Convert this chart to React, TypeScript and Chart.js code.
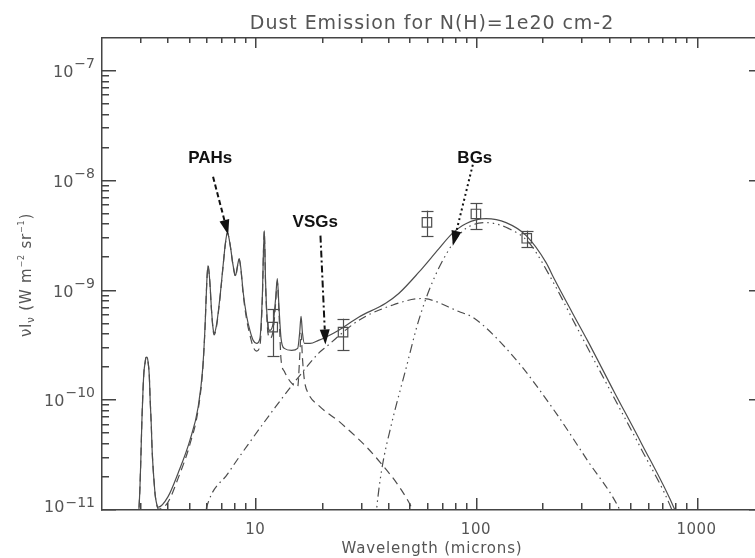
import React, { useEffect, useRef } from "react";
import { Chart, registerables } from "chart.js";

Chart.register(...registerables);

// ---------- data ----------
const totalWave = [2.93, 3.0, 3.03, 3.065, 3.1, 3.13, 3.17, 3.2, 3.24, 3.27, 3.31, 3.34, 3.38, 3.41, 3.45, 3.49, 3.52, 3.56, 3.6, 3.64, 4.02, 4.47, 5.06, 5.51, 5.78, 5.92, 6.03, 6.11, 6.23, 6.33, 6.44, 6.51, 6.67, 6.91, 7.15, 7.33, 7.48, 7.67, 7.94, 8.14, 8.31, 8.46, 8.61, 8.82, 9.13, 9.46, 9.79, 10.14, 10.5, 10.76, 10.99, 11.14, 11.37, 11.66, 12.07, 12.37, 12.59, 12.82, 13.09, 13.54, 14.62, 15.57, 15.9, 16.13, 16.36, 16.7, 17.73, 19.34, 20.75, 23.8, 29.4, 39, 44.7, 55, 68, 78, 90, 111, 137, 169, 208, 226, 273, 320, 424, 562, 794, 860];
const totalFlux = [6e-12, 1.49e-11, 2.79e-11, 6.44e-11, 1.21e-10, 1.76e-10, 2.17e-10, 2.41e-10, 2.41e-10, 2.17e-10, 1.65e-10, 1.0e-10, 5.8e-11, 3.44e-11, 2.26e-11, 1.65e-11, 1.34e-11, 1.16e-11, 1.06e-11, 1.04e-11, 1.29e-11, 2.12e-11, 4.24e-11, 8.46e-11, 1.9e-10, 4.5e-10, 1.158e-9, 1.652e-9, 1.158e-9, 6.71e-10, 4.42e-10, 3.98e-10, 4.71e-10, 8.28e-10, 1.652e-9, 2.67e-9, 3.3e-9, 2.67e-9, 1.652e-9, 1.34e-9, 1.652e-9, 1.91e-9, 1.55e-9, 9.39e-10, 5.8e-10, 4.24e-10, 3.44e-10, 3.23e-10, 3.59e-10, 8.28e-10, 3.44e-9, 1.158e-9, 5.01e-10, 4.24e-10, 5.01e-10, 8.28e-10, 1.26e-9, 6.71e-10, 3.59e-10, 2.91e-10, 2.79e-10, 2.91e-10, 4.06e-10, 5.69e-10, 4.06e-10, 3.23e-10, 3.23e-10, 3.44e-10, 3.66e-10, 4.24e-10, 5.6e-10, 7.5e-10, 9.2e-10, 1.43e-9, 2.36e-9, 3.23e-9, 3.98e-9, 4.42e-9, 4.07e-9, 3.1e-9, 1.76e-9, 1.26e-9, 6.18e-10, 3.44e-10, 1.16e-10, 3.98e-11, 1.0e-11, 6.5e-12];

const pahWave = [2.93, 3.0, 3.03, 3.065, 3.1, 3.13, 3.17, 3.2, 3.24, 3.27, 3.31, 3.34, 3.38, 3.41, 3.45, 3.49, 3.52, 3.56, 3.6, 3.64, 4.02, 4.47, 5.06, 5.51, 5.78, 5.92, 6.03, 6.11, 6.23, 6.33, 6.44, 6.51, 6.67, 6.91, 7.15, 7.33, 7.48, 7.67, 7.94, 8.14, 8.31, 8.46, 8.61, 8.82, 9.13, 9.46, 9.79, 10.14, 10.5, 10.76, 10.99, 11.14, 11.37, 11.66, 12.07, 12.37, 12.59, 12.82, 13.09, 13.54, 14.62, 15.57, 15.9, 16.13, 16.36, 16.7, 17.4, 19.34, 24.6, 35, 49.6, 54];
const pahFlux = [6e-12, 1.49e-11, 2.79e-11, 6.44e-11, 1.21e-10, 1.76e-10, 2.17e-10, 2.41e-10, 2.41e-10, 2.17e-10, 1.65e-10, 1.0e-10, 5.8e-11, 3.44e-11, 2.26e-11, 1.65e-11, 1.34e-11, 1.15e-11, 1.04e-11, 1.0e-11, 1.15e-11, 1.9e-11, 3.9e-11, 8.0e-11, 1.85e-10, 4.4e-10, 1.15e-9, 1.65e-9, 1.15e-9, 6.6e-10, 4.3e-10, 3.85e-10, 4.55e-10, 8.1e-10, 1.63e-9, 2.65e-9, 3.28e-9, 2.65e-9, 1.63e-9, 1.31e-9, 1.62e-9, 1.88e-9, 1.52e-9, 9.0e-10, 5.4e-10, 3.85e-10, 3.0e-10, 2.75e-10, 3.05e-10, 7.7e-10, 3.38e-9, 1.1e-9, 4.4e-10, 3.6e-10, 4.3e-10, 7.5e-10, 1.18e-9, 5.9e-10, 2.3e-10, 1.8e-10, 1.4e-10, 1.3e-10, 2.4e-10, 4.0e-10, 2.4e-10, 1.5e-10, 1.13e-10, 8.8e-11, 6.0e-11, 3.0e-11, 1.16e-11, 8e-12];

const vsgWave = [5.8, 5.99, 7.54, 9.59, 12.33, 15.68, 19.34, 20.81, 29.4, 41.5, 56.8, 83.7, 97.9, 148.9, 226, 319.6, 446.7, 480];
const vsgFlux = [7e-12, 1.0e-11, 2.12e-11, 4.24e-11, 8.46e-11, 1.585e-10, 2.62e-10, 2.97e-10, 5.23e-10, 7.16e-10, 8.28e-10, 6.3e-10, 5.5e-10, 2.41e-10, 7.94e-11, 2.79e-11, 1.0e-11, 7e-12];

const bgWave = [35, 35.5, 37.4, 41.5, 48, 55, 64, 79, 90, 111, 141, 174, 226, 273, 424, 562, 770, 800];
const bgFlux = [7e-12, 1.0e-11, 2.26e-11, 6.0e-11, 1.84e-10, 5.2e-10, 1.21e-9, 2.67e-9, 3.59e-9, 4.07e-9, 3.59e-9, 2.67e-9, 1.13e-9, 5.45e-10, 1.02e-10, 3.51e-11, 1.0e-11, 8e-12];

const obsWave = [12, 25, 60, 100, 170];
const obsFlux = [4.54e-10, 4.09e-10, 4.09e-9, 4.88e-9, 2.93e-9];
const obsLow = [2.48e-10, 2.79e-10, 3.05e-9, 3.56e-9, 2.42e-9];
const obsHigh = [6.58e-10, 5.42e-10, 5.23e-9, 6.14e-9, 3.44e-9];

const xTickValues = [10, 100, 1000];
const xTickLabels = ["10", "100", "1000"];
const xMinorTicks = [3, 4, 5, 6, 7, 8, 9, 20, 30, 40, 50, 60, 70, 80, 90, 200, 300, 400, 500, 600, 700, 800, 900];
const yTickExponents = [-11, -10, -9, -8, -7];
const yMinorMultipliers = [2, 3, 4, 5, 6, 7, 8, 9];

const annLabels = ["PAHs", "VSGs", "BGs"];
const annLabelWave = [6.25, 18.7, 98.9];
const annLabelFlux = [1.585e-8, 4.06e-9, 1.585e-8];
const annFromWave = [6.44, 19.75, 96.8];
const annFromFlux = [1.064e-8, 3.1e-9, 1.37e-8];
const annToWave = [7.54, 20.8, 78.6];
const annToFlux = [3.16e-9, 3.16e-10, 2.51e-9];

const titleText = "Dust Emission for N(H)=1e20 cm-2";
const xTitleText = "Wavelength (microns)";

// ---------- styling ----------
const FONT = '"DejaVu Sans", sans-serif';
const BOLD = '"Liberation Sans", Arial, sans-serif';
const TEXT_COLOR = "#555555";
const LINE_COLOR = "#4d4d4d";
const TICK_COLOR = "#444444";
const TW = 1.5;
const annDashes = [[5, 3], [7, 3, 2, 3], [2, 3]];

const toXY = (xs: number[], ys: number[]) => xs.map((x, i) => ({ x, y: ys[i] }));

function drawArrow(ctx: CanvasRenderingContext2D, x1: number, y1: number, x2: number, y2: number, dash: number[]) {
  const dx = x2 - x1, dy = y2 - y1;
  const len = Math.hypot(dx, dy);
  const ux = dx / len, uy = dy / len;
  const headLen = 15, headHalf = 5;
  const bx = x2 - ux * headLen, by = y2 - uy * headLen;
  ctx.save();
  ctx.strokeStyle = "#111";
  ctx.lineWidth = 2;
  ctx.setLineDash(dash);
  ctx.beginPath();
  ctx.moveTo(x1, y1);
  ctx.lineTo(bx, by);
  ctx.stroke();
  ctx.setLineDash([]);
  ctx.fillStyle = "#111";
  ctx.beginPath();
  ctx.moveTo(x2, y2);
  ctx.lineTo(bx - uy * headHalf, by + ux * headHalf);
  ctx.lineTo(bx + uy * headHalf, by - ux * headHalf);
  ctx.closePath();
  ctx.fill();
  ctx.restore();
}

function seg(ctx: CanvasRenderingContext2D, x1: number, y1: number, x2: number, y2: number) {
  ctx.beginPath();
  ctx.moveTo(x1, y1);
  ctx.lineTo(x2, y2);
  ctx.stroke();
}

function drawAxesBox(chart: any) {
  const ctx: CanvasRenderingContext2D = chart.ctx;
  const area = chart.chartArea;
  const xs = chart.scales.x, ys = chart.scales.y;
  const L = Math.round(area.left), R = Math.round(area.right);
  const T = Math.round(area.top), B = Math.round(area.bottom);
  ctx.save();
  ctx.setLineDash([]);
  ctx.fillStyle = TICK_COLOR;
  // frame
  ctx.fillRect(L, T, R - L + TW, TW);
  ctx.fillRect(L, B, R - L + TW, TW);
  ctx.fillRect(L, T, TW, B - T + TW);
  ctx.fillRect(R, T, TW, B - T + TW);
  // x ticks, inward on bottom and top
  for (let i = 0; i < xTickValues.length; i++) {
    const px = Math.round(xs.getPixelForValue(xTickValues[i]));
    ctx.fillRect(px, B - 11, TW, 11);
    ctx.fillRect(px, T, TW, 11);
  }
  for (let i = 0; i < xMinorTicks.length; i++) {
    const px = Math.round(xs.getPixelForValue(xMinorTicks[i]));
    ctx.fillRect(px, B - 6, TW, 6);
    ctx.fillRect(px, T, TW, 6);
  }
  // y ticks, inward on left and right
  for (let k = 0; k < yTickExponents.length; k++) {
    const base = Math.pow(10, yTickExponents[k]);
    const py = Math.round(ys.getPixelForValue(base));
    ctx.fillRect(L, py, 15, TW);
    ctx.fillRect(R - 14, py, 15, TW);
    for (let j = 0; j < yMinorMultipliers.length; j++) {
      const v = yMinorMultipliers[j] * base;
      if (v > 1.9999e-7) continue;
      const qy = Math.round(ys.getPixelForValue(v));
      ctx.fillRect(L, qy, 8, TW);
      ctx.fillRect(R - 7, qy, 8, TW);
    }
  }
  ctx.restore();
}

const decorPlugin = {
  id: "decor",
  beforeDraw(chart: any) {
    const ctx = chart.ctx;
    ctx.save();
    ctx.fillStyle = "#fff";
    ctx.fillRect(0, 0, chart.width, chart.height);
    ctx.restore();
  },
  afterDatasetsDraw(chart: any) {
    const ctx: CanvasRenderingContext2D = chart.ctx;
    const xs = chart.scales.x, ys = chart.scales.y;
    ctx.save();
    ctx.setLineDash([]);
    ctx.strokeStyle = LINE_COLOR;
    ctx.lineWidth = 1.2;
    obsWave.forEach((w, i) => {
      const px = Math.round(xs.getPixelForValue(w)) + 0.5;
      const yl = ys.getPixelForValue(obsLow[i]);
      const yh = ys.getPixelForValue(obsHigh[i]);
      seg(ctx, px, yl, px, yh);
      seg(ctx, px - 6, Math.round(yl) + 0.5, px + 6, Math.round(yl) + 0.5);
      seg(ctx, px - 6, Math.round(yh) + 0.5, px + 6, Math.round(yh) + 0.5);
    });
    ctx.restore();
  },
  afterDraw(chart: any) {
    drawAxesBox(chart);
    const ctx: CanvasRenderingContext2D = chart.ctx;
    const { left, right } = chart.chartArea;
    const xs = chart.scales.x, ys = chart.scales.y;
    ctx.save();

    // tick labels
    ctx.fillStyle = TEXT_COLOR;
    ctx.textBaseline = "alphabetic";
    ctx.font = `15px ${FONT}`;
    (ctx as any).letterSpacing = "0.5px";
    ctx.textAlign = "center";
    xTickValues.forEach((v, i) => {
      ctx.fillText(xTickLabels[i], xs.getPixelForValue(v), 534);
    });
    (ctx as any).letterSpacing = "0px";
    yTickExponents.forEach((e) => {
      const py = ys.getPixelForValue(Math.pow(10, e));
      const expStr = "\u2212" + Math.abs(e);
      ctx.textAlign = "right";
      ctx.font = `14px ${FONT}`;
      const expW = ctx.measureText(expStr).width;
      ctx.fillText(expStr, 95, py - 2);
      ctx.font = `16px ${FONT}`;
      ctx.fillText("10", 95 - expW - 1, Math.min(py + 7, 512));
    });

    // title
    ctx.textAlign = "center";
    ctx.font = `19px ${FONT}`;
    (ctx as any).letterSpacing = "0.95px";
    ctx.fillText(titleText, (left + right) / 2, 29);
    // x title
    ctx.font = `15px ${FONT}`;
    (ctx as any).letterSpacing = "0.8px";
    ctx.fillText(xTitleText, (left + right) / 2, 553);
    (ctx as any).letterSpacing = "0px";

    // y title (rotated rich text)
    const parts: [string, number, number][] = [
      ["\u03bd", 15, 0],
      ["I", 15, 0],
      ["\u03bd", 10, 3],
      [" (W m", 15, 0],
      ["\u22122", 8, -7],
      [" sr", 15, 0],
      ["\u22121", 8, -7],
      [")", 15, 0],
    ];
    ctx.save();
    ctx.translate(31, 275);
    ctx.rotate(-Math.PI / 2);
    (ctx as any).letterSpacing = "0.8px";
    let total = 0;
    parts.forEach(([t, s]) => {
      ctx.font = `${s}px ${FONT}`;
      total += ctx.measureText(t).width;
    });
    let cx = -total / 2;
    ctx.textAlign = "left";
    parts.forEach(([t, s, dy]) => {
      ctx.font = `${s}px ${FONT}`;
      ctx.fillText(t, cx, dy);
      cx += ctx.measureText(t).width;
    });
    ctx.restore();

    // annotations
    annLabels.forEach((lab, i) => {
      const fx = xs.getPixelForValue(annFromWave[i]);
      const fy = ys.getPixelForValue(annFromFlux[i]);
      const tx = xs.getPixelForValue(annToWave[i]);
      const ty = ys.getPixelForValue(annToFlux[i]);
      drawArrow(ctx, fx, fy, tx, ty, annDashes[i]);
      ctx.fillStyle = "#111";
      ctx.font = `bold 17px ${BOLD}`;
      ctx.textAlign = "center";
      ctx.textBaseline = "middle";
      ctx.fillText(lab, xs.getPixelForValue(annLabelWave[i]), ys.getPixelForValue(annLabelFlux[i]));
    });
    ctx.restore();
  },
};

export default function App() {
  const ref = useRef<HTMLCanvasElement | null>(null);
  useEffect(() => {
    if (!ref.current) return;
    const lineBase = {
      showLine: true,
      pointRadius: 0,
      borderColor: LINE_COLOR,
      backgroundColor: LINE_COLOR,
      borderWidth: 1.2,
      cubicInterpolationMode: "monotone" as const,
      fill: false,
    };
    const chart = new Chart(ref.current, {
      type: "scatter",
      data: {
        datasets: [
          { ...lineBase, label: "Total", data: toXY(totalWave, totalFlux) },
          { ...lineBase, label: "PAHs", data: toXY(pahWave, pahFlux), borderDash: [8, 5] },
          { ...lineBase, label: "VSGs", data: toXY(vsgWave, vsgFlux), borderDash: [8, 4, 1.5, 4] },
          { ...lineBase, label: "BGs", data: toXY(bgWave, bgFlux), borderDash: [9, 4, 1.5, 4, 1.5, 4, 1.5, 4] },
          {
            label: "Data",
            data: toXY(obsWave, obsFlux),
            showLine: false,
            pointStyle: "rect",
            pointRadius: 6.7,
            borderWidth: 1.2,
            borderColor: LINE_COLOR,
            backgroundColor: "rgba(0,0,0,0)",
          },
        ],
      },
      options: {
        animation: false,
        responsive: false,
        devicePixelRatio: 1,
        events: [],
        layout: { padding: { top: 37, right: 17, left: 0, bottom: 0 } },
        plugins: { legend: { display: false }, tooltip: { enabled: false }, title: { display: false } },
        scales: {
          x: {
            type: "logarithmic",
            min: 2,
            max: 2000,
            ticks: { display: false },
            grid: { display: false, drawTicks: false },
            border: { display: false },
            afterFit: (s: any) => { s.height = 49; },
          },
          y: {
            type: "logarithmic",
            min: 1e-11,
            max: 2e-7,
            ticks: { display: false },
            grid: { display: false, drawTicks: false },
            border: { display: false },
            afterFit: (s: any) => { s.width = 101; },
          },
        },
      },
      plugins: [decorPlugin],
    });
    return () => chart.destroy();
  }, []);
  return (
    <div style={{ position: "fixed", left: 0, top: 0, width: 755, height: 558, overflow: "hidden", background: "#fff" }}>
      <canvas ref={ref} width={780} height={558} style={{ width: 780, height: 558, display: "block" }} />
    </div>
  );
}
